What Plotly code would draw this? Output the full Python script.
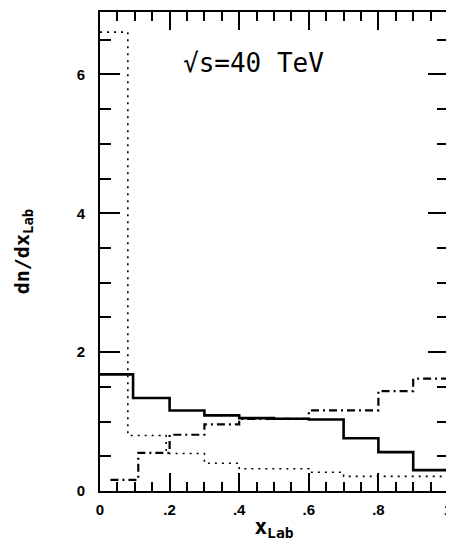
import plotly.graph_objects as go

# ---- data ----
solid_edges = [0.0, 0.095, 0.2, 0.3, 0.4, 0.5, 0.6, 0.7, 0.8, 0.9, 1.0]
solid_vals = [1.68, 1.34, 1.16, 1.09, 1.05, 1.04, 1.03, 0.76, 0.56, 0.30]

dotted_edges = [0.0, 0.08, 0.19, 0.3, 0.4, 0.6, 0.7, 1.0]
dotted_vals = [6.61, 0.80, 0.54, 0.40, 0.32, 0.27, 0.21]

dashdot_edges = [0.03, 0.11, 0.2, 0.3, 0.4, 0.6, 0.8, 0.9, 1.0]
dashdot_vals = [0.16, 0.55, 0.81, 0.96, 1.04, 1.16, 1.44, 1.62]

x_tick_vals = [0, 0.2, 0.4, 0.6, 0.8, 1.0]
x_tick_text = ["0", ".2", ".4", ".6", ".8", "1"]
y_tick_vals = [0, 2, 4, 6]
y_tick_text = ["0", "2", "4", "6"]


def step(edges, vals):
    return list(edges), list(vals) + [vals[-1]]


fig = go.Figure()

for edges, vals, dash, width in [
    (dashdot_edges, dashdot_vals, "8px,4px,2px,4px", 2.2),
    (dotted_edges, dotted_vals, "2px,5px", 1.6),
    (solid_edges, solid_vals, "solid", 2.6),
]:
    xs, ys = step(edges, vals)
    fig.add_trace(go.Scatter(
        x=xs, y=ys, mode="lines",
        line=dict(shape="hv", color="black", width=width, dash=dash),
        showlegend=False, hoverinfo="skip",
    ))

fig.add_annotation(
    x=0.44, y=6.17, xref="x", yref="y",
    text="√s=40 TeV", showarrow=False,
    font=dict(family="DejaVu Sans Mono", size=26, color="black"),
)

axis_common = dict(
    showgrid=False, zeroline=False, showline=True, linecolor="black",
    linewidth=2, mirror="ticks", ticks="inside", tickcolor="black",
    tickwidth=2,
)

fig.update_xaxes(
    range=[0, 1.0], tickvals=x_tick_vals, ticktext=x_tick_text, ticklen=18,
    ticklabelstandoff=4,
    tickfont=dict(family="Liberation Sans", size=15, color="black", weight="bold"),
    minor=dict(dtick=0.05, ticks="inside", ticklen=9, tickcolor="black", tickwidth=1.5),
    title=dict(text="x<sub>Lab</sub>", standoff=6,
               font=dict(family="DejaVu Sans Mono", size=21, color="black", weight="bold")),
    **axis_common,
)
fig.update_yaxes(
    range=[0, 6.9], tickvals=y_tick_vals, ticktext=y_tick_text, ticklen=20,
    ticklabelstandoff=10,
    tickfont=dict(family="Liberation Sans", size=15, color="black", weight="bold"),
    minor=dict(dtick=0.5, ticks="inside", ticklen=11, tickcolor="black", tickwidth=2),
    title=dict(text="dn/dx<sub>Lab</sub>", standoff=42,
               font=dict(family="DejaVu Sans Mono", size=20, color="black", weight="bold")),
    **axis_common,
)

# the page body adds an 8px offset, so the figure is sized to fit the window
fig.update_layout(
    width=446, height=533,
    margin=dict(l=92, r=5, t=2, b=49),
    paper_bgcolor="white", plot_bgcolor="white",
)

fig.write_html("out.html")
